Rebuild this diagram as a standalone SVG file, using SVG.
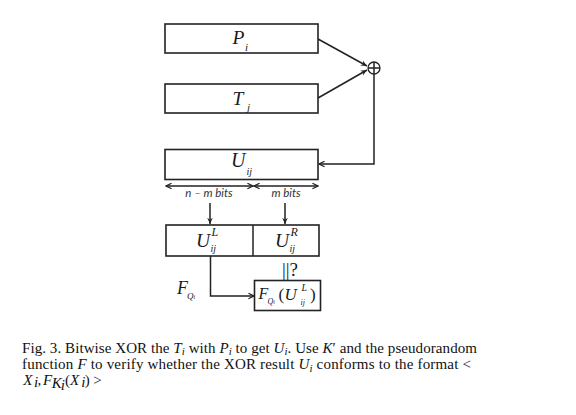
<svg xmlns="http://www.w3.org/2000/svg" width="576" height="415" viewBox="0 0 576 415">
<style>
.box{fill:#fff;stroke:#222;stroke-width:1.6}
.ln{fill:none;stroke:#222;stroke-width:1.5}
.m{font-family:"Liberation Serif","Times New Roman",serif;font-style:italic;fill:#1a1a1a}
.r{font-family:"Liberation Serif","Times New Roman",serif;fill:#1a1a1a}
.s{font-family:Lato,"Open Sans",sans-serif;font-style:italic;fill:#333;font-size:11.5px}
.cap{font-family:"Liberation Serif","Times New Roman",serif;font-size:13.8px;fill:#111}
.it{font-style:italic}
</style>
<defs>
<marker id="ah" viewBox="0 0 10 10" refX="9" refY="5" markerWidth="7" markerHeight="7" orient="auto-start-reverse" markerUnits="userSpaceOnUse">
<path d="M0,1 L9,5 L0,9 L3,5 Z" fill="#222"/>
</marker>
<marker id="oa" viewBox="0 0 10 10" refX="9" refY="5" markerWidth="7" markerHeight="7" orient="auto-start-reverse" markerUnits="userSpaceOnUse">
<path d="M1,1 L9,5 L1,9" fill="none" stroke="#222" stroke-width="1.6"/>
</marker>
</defs>
<rect width="576" height="415" fill="#fff"/>
<g id="connectors">
<line class="ln" x1="318" y1="39" x2="367" y2="66" marker-end="url(#ah)"/>
<line class="ln" x1="318" y1="98" x2="367" y2="70" marker-end="url(#ah)"/>
<polyline class="ln" points="374,74 374,164 319,164" marker-end="url(#oa)"/>
<line class="ln" x1="166" y1="186" x2="253" y2="186" marker-start="url(#oa)" marker-end="url(#oa)"/>
<line class="ln" x1="254" y1="186" x2="318" y2="186" marker-start="url(#oa)" marker-end="url(#oa)"/>
<line class="ln" x1="210" y1="203" x2="210" y2="224" marker-end="url(#ah)"/>
<line class="ln" x1="285" y1="203" x2="285" y2="224" marker-end="url(#ah)"/>
<polyline class="ln" points="210.5,256 210.5,296 254,296" marker-end="url(#oa)"/>
</g>
<g id="xor">
<circle cx="374" cy="68" r="6" fill="#fff" stroke="#222" stroke-width="1.3"/>
<line class="ln" x1="368" y1="68" x2="380" y2="68" stroke-width="1.2"/>
<line class="ln" x1="374" y1="62" x2="374" y2="74" stroke-width="1.2"/>
</g>
<g id="P">
<rect class="box" x="165" y="24" width="153" height="29"/>
<text class="m" x="232.5" y="44" font-size="19.5">P</text><text class="m" x="245" y="50.5" font-size="11">i</text>
</g>
<g id="T">
<rect class="box" x="165" y="84" width="153" height="29"/>
<text class="m" x="232.5" y="104.5" font-size="19.5">T</text><text class="m" x="247" y="110.5" font-size="11">j</text>
</g>
<g id="U">
<rect class="box" x="165" y="149.5" width="153" height="30"/>
<text class="m" x="231" y="167" font-size="20">U</text><text class="m" x="246.5" y="174.5" font-size="10" fill="#555">ij</text>
</g>
<g id="bits">
<text class="s" x="209" y="197" text-anchor="middle">n – m bits</text>
<text class="s" x="286" y="197" text-anchor="middle">m bits</text>
</g>
<g id="split">
<rect class="box" x="166" y="225" width="153" height="31"/>
<line class="ln" x1="253" y1="225" x2="253" y2="256" stroke-width="1.6"/>
<text class="m" x="196" y="246.5" font-size="19.5">U</text><text class="m" x="211.5" y="236" font-size="12">L</text><text class="m" x="210.5" y="251.5" font-size="10" fill="#555">ij</text>
<text class="m" x="275" y="246.5" font-size="19.5">U</text><text class="m" x="290.5" y="236" font-size="12">R</text><text class="m" x="289.5" y="251.5" font-size="10" fill="#555">ij</text>
</g>
<g id="eq">
<text class="r" x="282" y="276" font-size="19">||?</text>
</g>
<g id="FQ">
<text class="m" x="177" y="294" font-size="18">F</text><text class="m" x="187" y="298.5" font-size="9">Q<tspan font-size="6" dy="0.5">i</tspan></text>
</g>
<g id="F">
<rect class="box" x="254.5" y="280.5" width="66" height="30"/>
<text class="m" x="258.5" y="299" font-size="16">F</text><text class="m" x="267.5" y="303.5" font-size="8">Q<tspan font-size="5.5" dy="0.5">i</tspan></text>
<text class="r" x="278.5" y="300" font-size="17">(</text><text class="m" x="284.5" y="300" font-size="17">U</text>
<text class="m" x="301.5" y="291" font-size="10">L</text><text class="m" x="300.5" y="305" font-size="8" fill="#555">ij</text>
<text class="r" x="310" y="300" font-size="17">)</text>
</g>
<g id="caption">
<g transform="matrix(1.09,0,0,1,0,0)">
<text class="cap" x="20.2" y="353" textLength="417.4" lengthAdjust="spacing">Fig. 3.  Bitwise XOR the <tspan class="it">T</tspan><tspan class="it" font-size="10" dy="2.5">i</tspan><tspan dy="-2.5"> with </tspan><tspan class="it">P</tspan><tspan class="it" font-size="10" dy="2.5">i</tspan><tspan dy="-2.5"> to get </tspan><tspan class="it">U</tspan><tspan class="it" font-size="10" dy="2.5">i</tspan><tspan dy="-2.5">. Use </tspan><tspan class="it">K</tspan>′ and the pseudorandom</text>
<text class="cap" x="20.2" y="369.5" textLength="411.9" lengthAdjust="spacing">function <tspan class="it">F</tspan> to verify whether the XOR result <tspan class="it">U</tspan><tspan class="it" font-size="10" dy="2.5">i</tspan><tspan dy="-2.5"> conforms to the format &lt;</tspan></text>
<text class="cap it" x="21.4" y="385">X</text>
<text class="cap it" x="31.1" y="387.5" font-size="10">i</text>
<text class="cap" x="34.5" y="385">,</text>
<text class="cap it" x="39.5" y="385">F</text>
<text class="cap it" x="47.5" y="388" font-size="10">K</text>
<text class="cap it" x="55.8" y="390" font-size="7">i</text>
<text class="cap" x="59.6" y="385">(</text>
<text class="cap it" x="64.2" y="385">X</text>
<text class="cap it" x="74.5" y="387.5" font-size="10">i</text>
<text class="cap" x="77.8" y="385">)</text>
<text class="cap" x="85.6" y="385">&gt;</text>
</g>
</g>
</svg>
